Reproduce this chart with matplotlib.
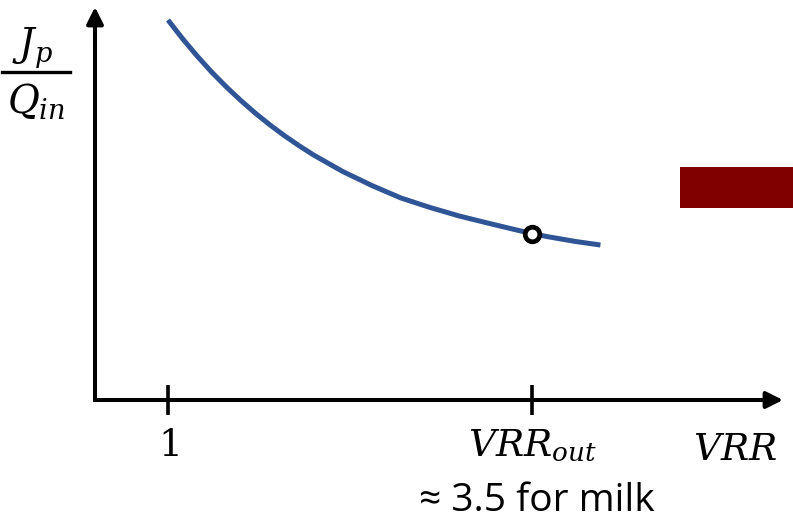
import matplotlib
matplotlib.use("Agg")
import matplotlib.pyplot as plt
from matplotlib.lines import Line2D
from matplotlib.patches import Rectangle
from matplotlib.transforms import blended_transform_factory

# Permeate flux per feed flow versus volume reduction ratio
vrr = [1.00, 1.10, 1.20, 1.30, 1.40, 1.50, 1.60, 1.70, 1.80, 1.90, 2.00,
       2.20, 2.40, 2.60, 2.80, 3.00, 3.20, 3.40, 3.50, 3.60, 3.80, 3.97]
flux_ratio = [3.80, 3.613, 3.44, 3.279, 3.132, 2.995, 2.868, 2.751, 2.643, 2.543, 2.45,
              2.285, 2.145, 2.02, 1.925, 1.84, 1.768, 1.698, 1.665, 1.635, 1.585, 1.55]

VRR_OUT = 3.5
tick_values = [1, VRR_OUT]
tick_labels = [r"$\mathrm{1}$", r"$VRR_{out}$"]
note_text = "\u2248 3.5 for milk"

plt.rcParams["mathtext.fontset"] = "dejavuserif"

W, H = 793, 519
fig = plt.figure(figsize=(W / 100, H / 100), dpi=100)

# axes box in pixel terms: left spine at 95, baseline at 400, arrow tips at 783 / 7
left, right, bottom, top = 95, 783, 400, 7
ax = fig.add_axes([left / W, 1 - bottom / H, (right - left) / W, (bottom - top) / H])
ax.set_xlim(0.4986, 5.224)
ax.set_ylim(0, 3.93)
for s in ax.spines.values():
    s.set_visible(False)

ax.set_yticks([])
ax.set_xticks(tick_values)
ax.set_xticklabels(tick_labels, fontsize=27)
ax.tick_params(axis="x", direction="inout", length=21, width=2.6, color="black", pad=10)

# axis lines with arrowheads
lw_axis = 2.9
ax.plot([0, 0, 0.98], [0.97, 0, 0], transform=ax.transAxes, color="black",
        lw=lw_axis, solid_joinstyle="miter", solid_capstyle="butt", clip_on=False)
head = "-|>,head_length=1.0,head_width=0.5"
ax.annotate("", xy=(0, 1), xytext=(0, 0.9), xycoords="axes fraction",
            arrowprops=dict(arrowstyle=head, mutation_scale=10, lw=lw_axis,
                            color="black", shrinkA=0, shrinkB=0))
ax.annotate("", xy=(1, 0), xytext=(0.9, 0), xycoords="axes fraction",
            arrowprops=dict(arrowstyle=head, mutation_scale=10, lw=lw_axis,
                            color="black", shrinkA=0, shrinkB=0))

# curve and operating point
ax.plot(vrr, flux_ratio, color="#2F5597", lw=3.6, solid_capstyle="butt",
        solid_joinstyle="round", clip_on=False)
out_y = flux_ratio[vrr.index(VRR_OUT)]
ax.plot([VRR_OUT], [out_y], "o", mfc="white", mec="black", ms=10.5, mew=3.4, zorder=5)

# annotations below the axis
trans = blended_transform_factory(ax.transData, ax.transAxes)
ax.text(VRR_OUT + 0.03, (bottom - 511) / (bottom - top), note_text, transform=trans,
        ha="center", va="baseline", fontsize=28, family="Open Sans")
ax.text((777 - left) / (right - left), (bottom - 460) / (bottom - top), r"$VRR$",
        transform=ax.transAxes, ha="right", va="baseline", fontsize=27)

# y-axis quantity as a stacked fraction
fig.text(32 / W, 1 - 57 / H, r"$J_p$", ha="center", va="baseline", fontsize=28)
fig.text(36 / W, 1 - 113 / H, r"$Q_{in}$", ha="center", va="baseline", fontsize=28)
fig.add_artist(Line2D([2 / W, 70 / W], [1 - 71.5 / H] * 2, color="black", lw=2.4))

# dark red block on the right
fig.add_artist(Rectangle((680 / W, 1 - 208 / H), (W - 680) / W, 41 / H,
                         transform=fig.transFigure, color="#800000", lw=0))

fig.savefig("out.png", dpi=100)
